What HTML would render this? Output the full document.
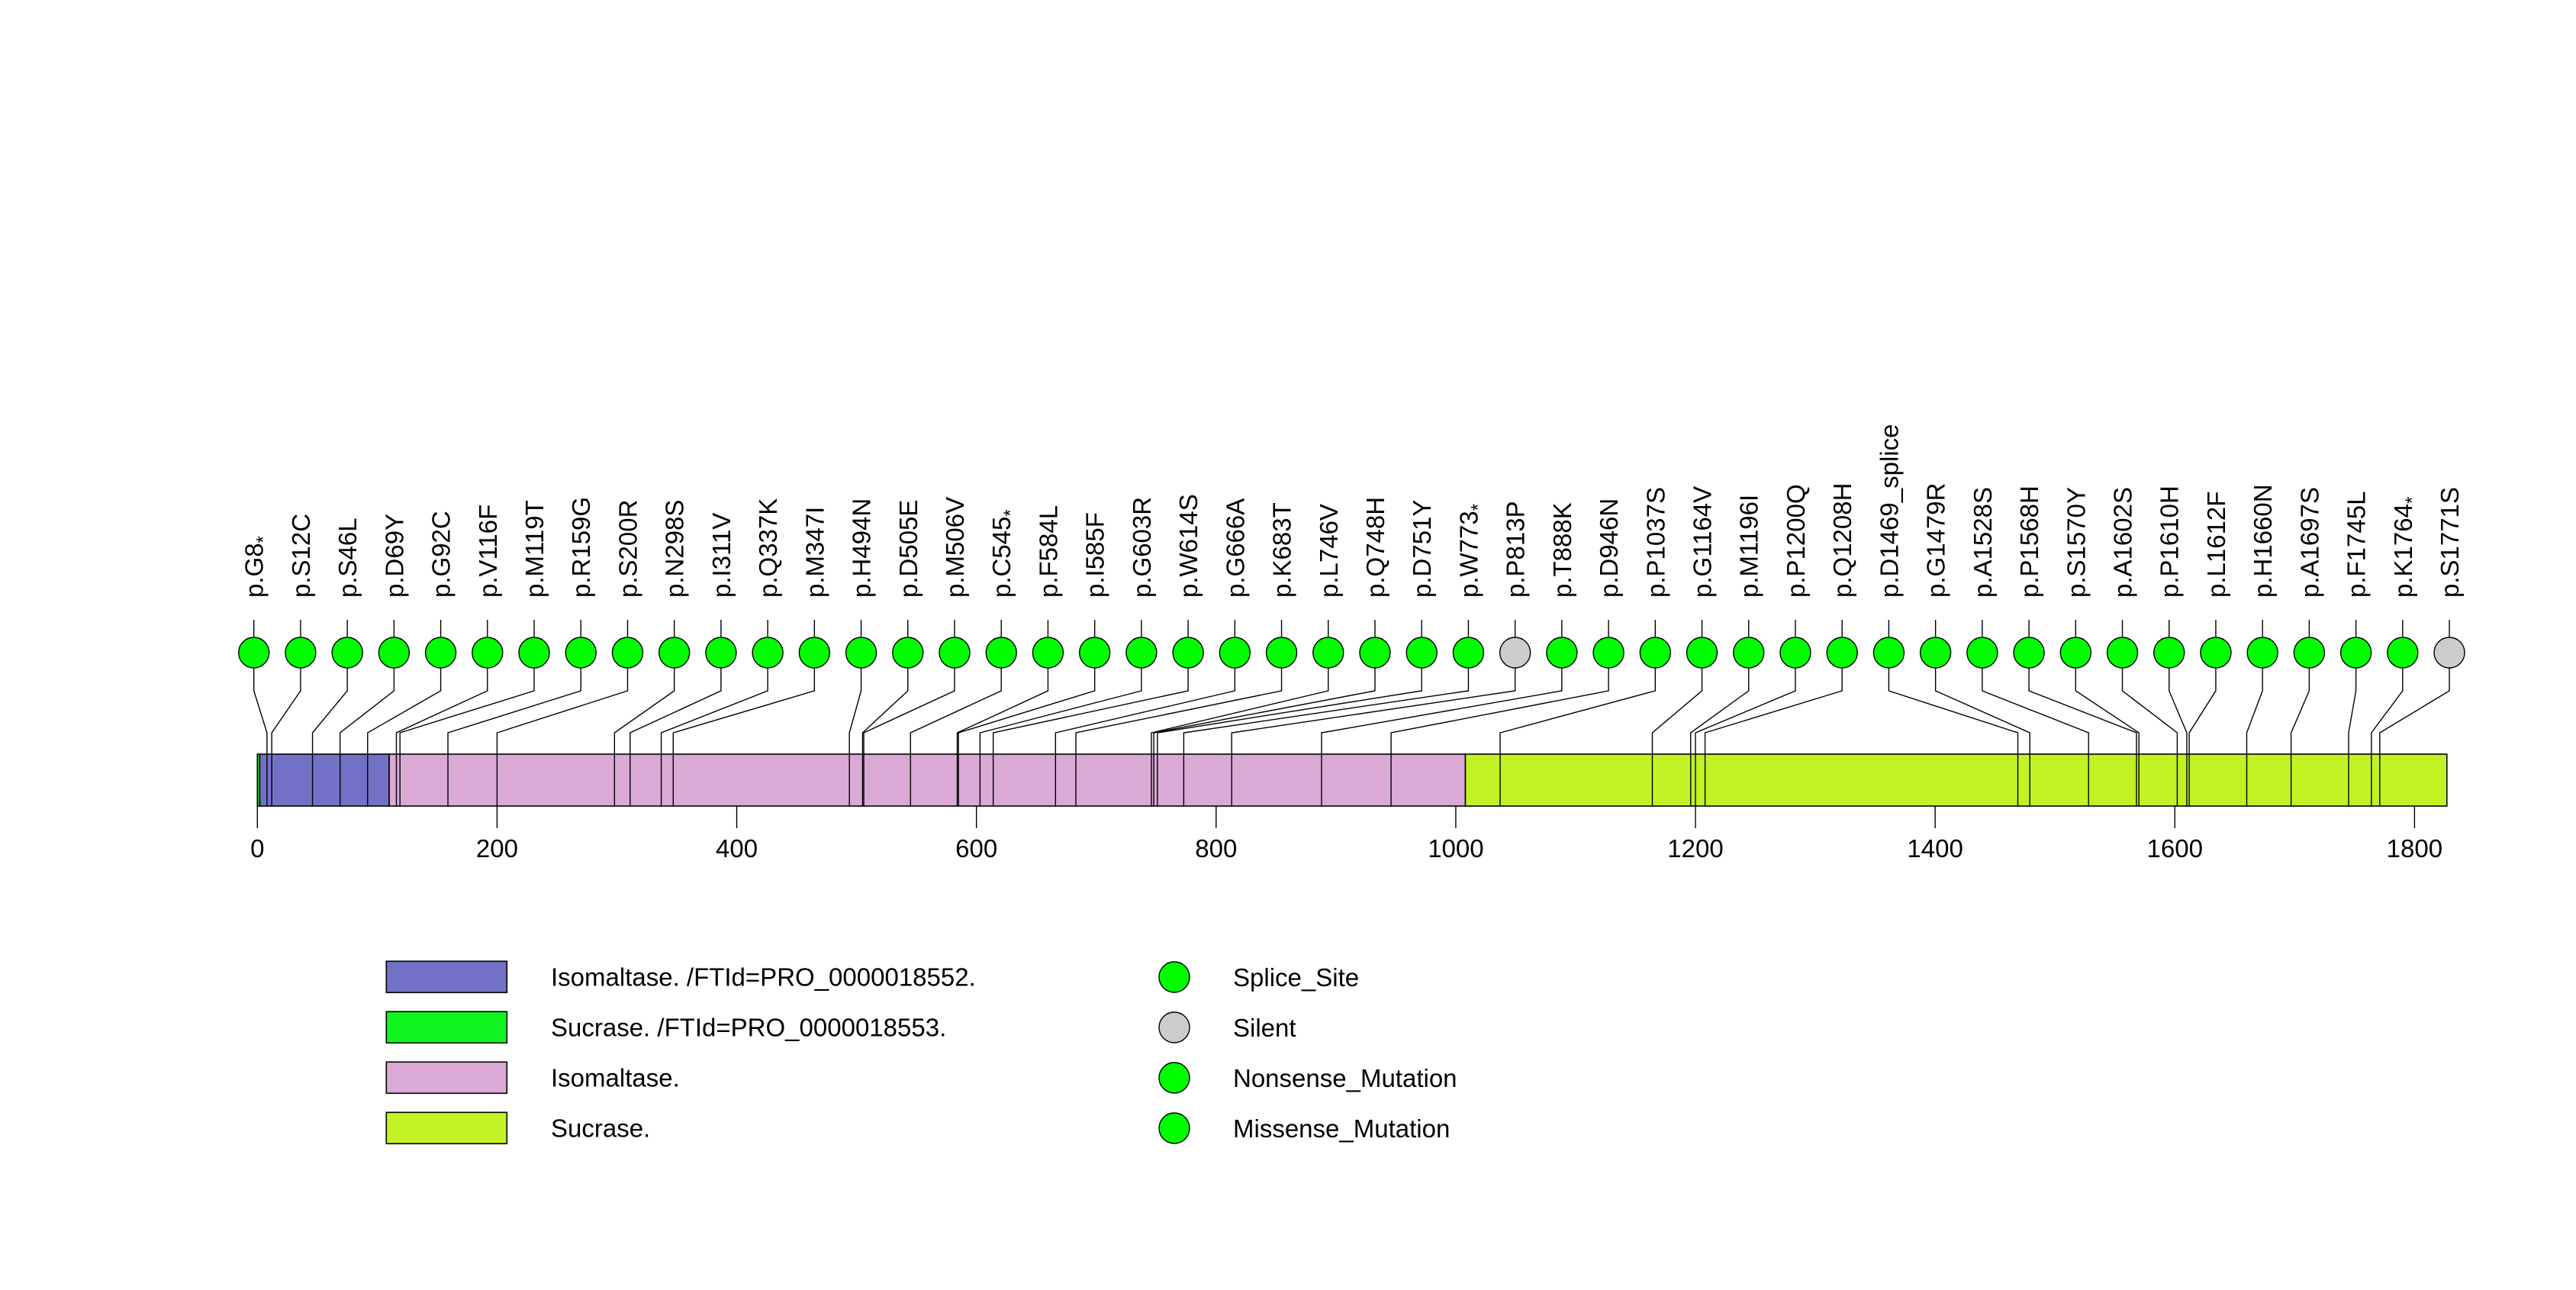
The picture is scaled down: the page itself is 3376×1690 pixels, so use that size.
<!DOCTYPE html>
<html><head><meta charset="utf-8"><style>
html,body{margin:0;padding:0;background:#fff;}
svg{display:block;font-family:"Liberation Sans",sans-serif;}
</style></head><body>
<svg id="chart" width="3376" height="1690" viewBox="0 0 3376 1690" xmlns="http://www.w3.org/2000/svg">
<rect width="3376" height="1690" fill="#fff"/>
<g id="domains"></g>
<g id="lines"></g>
<g id="pts"></g>
<g id="axis"></g>
<g id="legend"></g>
</svg>
<script>
const mutLabels=["p.G8*","p.S12C","p.S46L","p.D69Y","p.G92C","p.V116F","p.M119T","p.R159G","p.S200R","p.N298S","p.I311V","p.Q337K","p.M347I","p.H494N","p.D505E","p.M506V","p.C545*","p.F584L","p.I585F","p.G603R","p.W614S","p.G666A","p.K683T","p.L746V","p.Q748H","p.D751Y","p.W773*","p.P813P","p.T888K","p.D946N","p.P1037S","p.G1164V","p.M1196I","p.P1200Q","p.Q1208H","p.D1469_splice","p.G1479R","p.A1528S","p.P1568H","p.S1570Y","p.A1602S","p.P1610H","p.L1612F","p.H1660N","p.A1697S","p.F1745L","p.K1764*","p.S1771S"];
const mutPos=[8,12,46,69,92,116,119,159,200,298,311,337,347,494,505,506,545,584,585,603,614,666,683,746,748,751,773,813,888,946,1037,1164,1196,1200,1208,1469,1479,1528,1568,1570,1602,1610,1612,1660,1697,1745,1764,1771];
const mutType=["m","m","m","m","m","m","m","m","m","m","m","m","m","m","m","m","m","m","m","m","m","m","m","m","m","m","m","s","m","m","m","m","m","m","m","m","m","m","m","m","m","m","m","m","m","m","m","s"];
const domStart=[0,2,110,1008];
const domEnd=[2,110,1008,1827];
const domColor=["#10f520","#7371c5","#daa9d6","#c2f224"];
const domName=["sucrase-chain","isomaltase-chain","isomaltase-domain","sucrase-domain"];
const ticks=[0,200,400,600,800,1000,1200,1400,1600,1800];
const legendBoxLabels=["Isomaltase. /FTId=PRO_0000018552.","Sucrase. /FTId=PRO_0000018553.","Isomaltase.","Sucrase."];
const legendBoxColors=["#7371c5","#10f520","#daa9d6","#c2f224"];
const legendPtLabels=["Splice_Site","Silent","Nonsense_Mutation","Missense_Mutation"];
const legendPtColors=["#00ff00","#cccccc","#00ff00","#00ff00"];

const NS="http://www.w3.org/2000/svg";
const X0=337.3, SC=1.5706;
const xs=v=>X0+v*SC;
const BT=988, BB=1056, CY=855, R=20;
const cx0=332.7, cstep=61.22;
function mk(tag,attrs,parent){const e=document.createElementNS(NS,tag);for(const k in attrs)e.setAttribute(k,attrs[k]);parent.appendChild(e);return e;}
const gD=document.getElementById('domains'),gL=document.getElementById('lines'),gP=document.getElementById('pts'),gA=document.getElementById('axis'),gG=document.getElementById('legend');
// domains
domStart.forEach((s,i)=>{
  const r=mk('rect',{x:xs(s),y:BT,width:xs(domEnd[i])-xs(s),height:BB-BT,fill:domColor[i],stroke:'#000','stroke-width':1.6},gD);
  
  
});
// mutations
mutPos.forEach((p,i)=>{
  const cx=cx0+i*cstep, bx=xs(p);
  const pl=mk('polyline',{points:`${cx},812 ${cx},905 ${bx},960 ${bx},${BB}`,fill:'none',stroke:'#000','stroke-width':1.4},gL);
  
  
  const c=mk('circle',{cx:cx,cy:CY,r:R,fill:mutType[i]==='s'?'#cccccc':'#00ff00',stroke:'#000','stroke-width':1.4},gP);
  
  
  const lab=mutLabels[i];
  const t=mk('text',{x:0,y:0,'font-size':33,transform:`translate(${cx+12},783) rotate(-90)`},gP);
  
  
  if(lab.endsWith('*')){
    t.textContent=lab.slice(0,-1);
    const ts=mk('tspan',{'font-size':24,dy:8},t);ts.textContent='*';
  } else t.textContent=lab;
});
// axis
ticks.forEach(v=>{
  const l=mk('line',{x1:xs(v),x2:xs(v),y1:BB,y2:1085,stroke:'#000','stroke-width':1.4},gA);
  
  
  const t=mk('text',{x:xs(v),y:1123,'font-size':33,'text-anchor':'middle'},gA);
  
  
  t.textContent=v;
});
// legend
legendBoxLabels.forEach((s,i)=>{
  const y=1259.3+i*66;
  const r=mk('rect',{x:506.3,y:y,width:158,height:41,fill:legendBoxColors[i],stroke:'#000','stroke-width':1.6},gG);
  
  
  const t=mk('text',{x:722,y:y+32,'font-size':33},gG);
  
  
  t.textContent=s;
});
legendPtLabels.forEach((s,i)=>{
  const y=1280+i*66;
  const c=mk('circle',{cx:1539,cy:y,r:20,fill:legendPtColors[i],stroke:'#000','stroke-width':1.4},gG);
  
  
  const t=mk('text',{x:1616,y:y+12,'font-size':33},gG);
  
  
  t.textContent=s;
});
</script>
</body></html>
